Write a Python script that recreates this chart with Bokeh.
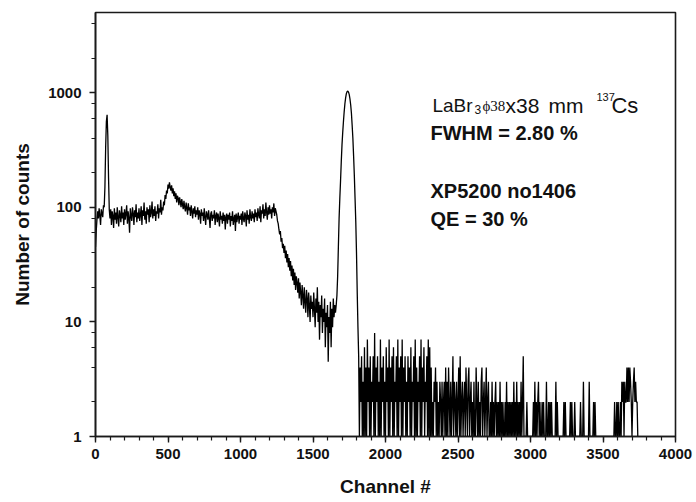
from bokeh.plotting import figure
from bokeh.models import (Range1d, SingleIntervalTicker, LogTicker, PrintfTickFormatter,
                          LinearAxis, LogAxis, Label, ColumnDataSource)
from bokeh.embed import file_html
from bokeh.resources import INLINE

# ---------------- data ----------------
# counts every 5 channels from channel 0 to 1815
main_start = 0
main_step = 5
main_counts = [
    45, 62, 78, 92, 80, 98, 84, 70, 96, 88, 82, 104, 100, 150, 330, 560, 640, 420, 180, 95,       # 0
    80, 96, 70, 92, 84, 66, 98, 78, 90, 72, 100, 82, 68, 94, 86, 74, 102, 80, 90, 70,             # 100
    96, 78, 88, 104, 72, 92, 80, 60, 98, 84, 76, 100, 88, 70, 94, 82, 106, 74, 90, 80,            # 200
    98, 76, 86, 102, 70, 94, 84, 110, 78, 92, 72, 100, 86, 96, 74, 104, 82, 90, 112, 80,          # 300
    96, 84, 102, 76, 92, 88, 106, 80, 98, 90, 116, 86, 100, 94, 112, 104, 128, 118, 140, 132,     # 400
    158, 145, 165, 150, 140, 155, 132, 146, 125, 138, 118, 132, 110, 126, 120, 104, 122, 112, 100, 118,  # 500
    106, 96, 114, 100, 92, 110, 98, 86, 108, 94, 100, 84, 104, 92, 80, 98, 88, 102, 82, 94,       # 600
    86, 100, 78, 94, 88, 72, 96, 84, 90, 76, 98, 82, 70, 92, 86, 78, 94, 80, 66, 88,              # 700
    92, 76, 86, 80, 94, 70, 84, 90, 74, 88, 80, 68, 92, 78, 84, 72, 90, 76, 86, 64,               # 800
    82, 88, 72, 86, 78, 90, 68, 84, 76, 92, 70, 80, 86, 62, 88, 74, 82, 90, 72, 84,               # 900
    78, 88, 70, 92, 80, 74, 90, 84, 68, 94, 78, 86, 72, 96, 82, 76, 92, 80, 88, 74,               # 1000
    96, 82, 90, 76, 98, 86, 80, 102, 74, 94, 88, 106, 80, 96, 84, 110, 90, 78, 100, 86,           # 1100
    104, 88, 96, 80, 100, 90, 108, 84, 98, 92, 86, 76, 72, 64, 58, 62, 50, 54, 44, 48,            # 1200
    40, 46, 36, 42, 33, 39, 30, 36, 28, 34, 25, 31, 23, 29, 21, 27, 19, 25, 22, 18,               # 1300
    24, 16, 22, 18, 14, 21, 17, 13, 20, 15, 12, 19, 16, 11, 18, 14, 10, 17, 13, 15,               # 1400
    11, 18, 13, 9, 16, 12, 20, 10, 15, 7, 14, 11, 17, 8, 13, 10, 16, 6, 12, 9,                    # 1500
    14, 4.5, 11, 8, 15, 6, 13, 9, 16, 11, 14, 12,                                                 # 1600-1655
    14, 17, 25, 45, 80, 120, 170, 250, 350, 450, 560, 680, 800, 900, 980, 1020,                   # 1660-1735
    1030, 1010, 960, 880, 780, 660, 520, 400, 280, 190, 120, 75, 40, 18, 9, 5,                    # 1740-1815
]

# counts every 5 channels from channel 1820 (one digit per channel bin)
tail_start = 1820
tail_step = 5
tail_segments = [
    "14251316141724151325",  # 1820
    "18142513171425131624",  # 1920
    "17142516132517142517",  # 2020
    "14251315241613251714",  # 2120
    "13251714261325171614",  # 2220
    "12132413121321312314",  # 2320
    "13142131251321312415",  # 2420
    "12312314213412312131",  # 2520
    "14213121341231241231",  # 2620
    "12131212312121312121",  # 2720
    "12131212121213121312",  # 2820
    "12131251111211111111",  # 2920
    "21312123121121211131",  # 3020
    "12121211111312111111",  # 3120
    "11212111111212111211",  # 3220
    "11111211131111111311",  # 3320
    "11121211111111111111",  # 3420
    "11111111111121121211",  # 3520
    "21323132242424321234",  # 3620
    "23221",                 # 3720
]

x_ticks_step = 500
y_range = (1, 5000)
x_range = (0, 4000)

info_line1 = ["LaBr", "3", "\u03d538", "x38", "mm", "137", "Cs"]
info_lines = ["FWHM = 2.80 %", "XP5200 no1406", "QE = 30 %"]

# ---------------- build the series ----------------
tail_counts = [int(c) for seg in tail_segments for c in seg]
channels = [main_start + main_step * i for i in range(len(main_counts))] + \
           [tail_start + tail_step * i for i in range(len(tail_counts))]
counts = list(main_counts) + tail_counts
src = ColumnDataSource(dict(ch=channels, n=counts))

FONT = "Liberation Sans"
AXC = "#1a1a1a"

p = figure(width=696, height=502, output_backend="svg", toolbar_location=None,
           y_axis_type="log", x_range=Range1d(*x_range), y_range=Range1d(*y_range),
           min_border_left=95, min_border_right=21, min_border_top=12, min_border_bottom=66,
           x_axis_location=None, y_axis_location=None)
p.outline_line_color = AXC
p.outline_line_width = 1.6
p.xgrid.visible = False
p.ygrid.visible = False
p.background_fill_color = "white"
p.border_fill_color = "white"

p.line("ch", "n", source=src, line_color="black", line_width=1.3)


def style(ax):
    ax.axis_line_color = AXC
    ax.axis_line_width = 1.6
    ax.major_tick_line_color = AXC
    ax.minor_tick_line_color = AXC
    ax.major_tick_line_width = 1.4
    ax.minor_tick_line_width = 1.2
    ax.major_tick_in, ax.major_tick_out = 0, 6
    ax.minor_tick_in, ax.minor_tick_out = 0, 4
    ax.major_label_text_font = FONT
    ax.major_label_text_font_style = "bold"
    ax.major_label_text_font_size = "15px"
    ax.major_label_text_color = "#111111"
    ax.axis_label_text_font = FONT
    ax.axis_label_text_font_style = "bold"
    ax.axis_label_text_font_size = "19px"
    ax.axis_label_text_color = "#111111"


xt = SingleIntervalTicker(interval=x_ticks_step, num_minor_ticks=5)
bottom = LinearAxis(ticker=xt, axis_label="Channel #")
style(bottom)
bottom.major_label_standoff = 6
bottom.axis_label_standoff = 14
p.add_layout(bottom, "below")

left = LogAxis(ticker=LogTicker(), axis_label="Number of counts",
               formatter=PrintfTickFormatter(format="%d"))
style(left)
left.major_label_standoff = 8
left.axis_label_standoff = 12
p.add_layout(left, "left")

# ---------------- annotation text ----------------
tx = 2310
y1, y2, y3, y4 = 766, 443, 138, 79


def lab(text, y, dx=0, dy=0, size="19px", bold=False, font=FONT):
    p.add_layout(Label(x=tx, y=y, x_offset=dx, y_offset=dy, text=text,
                       text_font=font, text_font_size=size,
                       text_font_style="bold" if bold else "normal",
                       text_color="#111111", text_baseline="alphabetic",
                       text_align="left"))


lab(info_line1[0], y1, 2)
lab(info_line1[1], y1, 44, -4, size="12px")
lab(info_line1[2], y1, 52, 0, size="15px", font="Liberation Serif")
lab(info_line1[3], y1, 75, size="21px")
lab(info_line1[4], y1, 118, size="21px")
lab(info_line1[5], y1, 166, 9, size="11px")
lab(info_line1[6], y1, 181, size="22px")
lab(info_lines[0], y2, 0, bold=True, size="20px")
lab(info_lines[1], y3, 0, bold=True, size="20px")
lab(info_lines[2], y4, 0, bold=True, size="20px")

open("out.html", "w").write(file_html(p, INLINE))
